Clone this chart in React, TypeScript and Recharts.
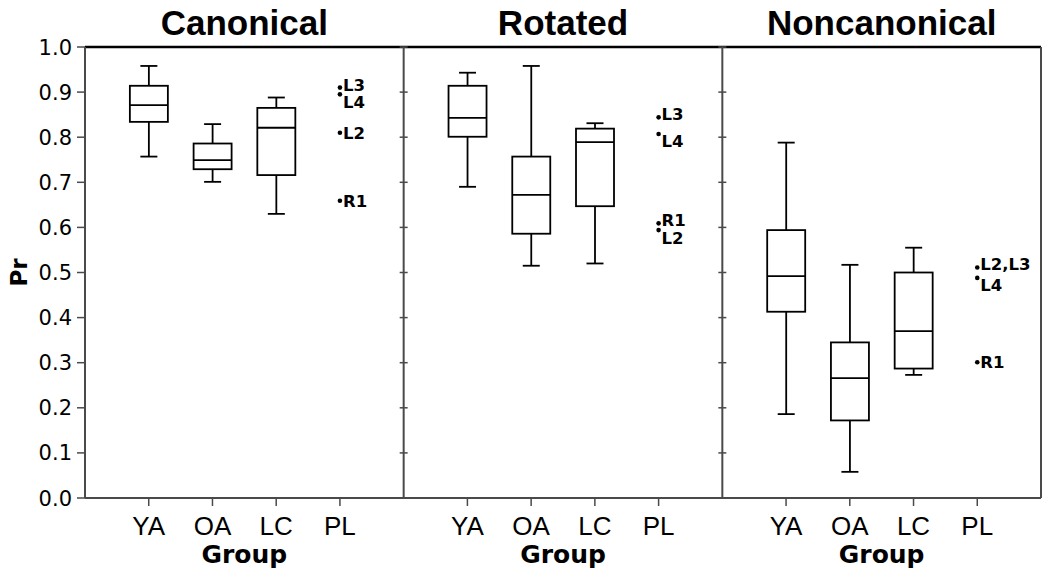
import React from 'react';
import { ComposedChart, XAxis, YAxis, Bar, Scatter, ReferenceLine, Label } from 'recharts';

// ---------- data ----------
const panelTitles = ['Canonical', 'Rotated', 'Noncanonical'];
const groupNames = ['YA', 'OA', 'LC', 'PL'];
const yTickValues = [0, 0.1, 0.2, 0.3, 0.4, 0.5, 0.6, 0.7, 0.8, 0.9, 1.0];

// [min, q1, median, q3, max] for YA, OA, LC
const canonicalBoxes = [
  [0.757, 0.834, 0.871, 0.914, 0.958],
  [0.701, 0.729, 0.749, 0.786, 0.829],
  [0.630, 0.716, 0.821, 0.865, 0.888],
];
const rotatedBoxes = [
  [0.690, 0.801, 0.843, 0.914, 0.943],
  [0.515, 0.586, 0.672, 0.757, 0.958],
  [0.520, 0.647, 0.789, 0.819, 0.831],
];
const noncanonicalBoxes = [
  [0.186, 0.413, 0.492, 0.594, 0.788],
  [0.058, 0.172, 0.266, 0.345, 0.517],
  [0.273, 0.287, 0.370, 0.500, 0.555],
];

// individual PL patients
const canonicalPL = [
  { label: 'L3', value: 0.910 },
  { label: 'L4', value: 0.895 },
  { label: 'L2', value: 0.810 },
  { label: 'R1', value: 0.659 },
];
const rotatedPL = [
  { label: 'L3', value: 0.844 },
  { label: 'L4', value: 0.807 },
  { label: 'R1', value: 0.609 },
  { label: 'L2', value: 0.594 },
];
const noncanonicalPL = [
  { label: 'L2,L3', value: 0.511 },
  { label: 'L4', value: 0.488 },
  { label: 'R1', value: 0.301 },
];

// short dark marks lying on the baseline in the original figure [from, to] (x units)
const baselineMarks = [
  [2.45, 2.93],
  [8.11, 9.45],
  [12.63, 12.93],
];

// ---------- derived ----------
const PANEL_SPAN = 5;
const panelBoxes = [canonicalBoxes, rotatedBoxes, noncanonicalBoxes];
const panelPoints = [canonicalPL, rotatedPL, noncanonicalPL];
const slotX = (p: number, g: number) => p * PANEL_SPAN + g + 1;

const boxData = panelBoxes.flatMap((boxes, p) =>
  boxes.map((b, g) => ({ x: slotX(p, g), min: b[0], q1: b[1], med: b[2], q3: b[3], max: b[4] }))
);

const pointData = panelPoints.flatMap((pts, p) =>
  pts.map((pt) => {
    const above = pts.some((o) => o !== pt && o.value > pt.value && o.value - pt.value < 0.045);
    const below = pts.some((o) => o !== pt && o.value < pt.value && pt.value - o.value < 0.045);
    return { x: slotX(p, 3), y: pt.value, label: pt.label, nudge: above ? 7.5 : below ? -3 : 0 };
  })
);

const dividerTickData = [1, 2].flatMap((p) => yTickValues.map((v) => ({ x: p * PANEL_SPAN, y: v })));

const xTicks = panelTitles.flatMap((_, p) => groupNames.map((_, g) => slotX(p, g)));

// ---------- styles ----------
const AXIS = '#4a4a4a';
const SMALL_FONT = 'DejaVu Sans, Verdana, sans-serif';
const ARIAL = 'Liberation Sans, Arial, Helvetica, sans-serif';

// ---------- shapes ----------
const BoxShape = (props: any) => {
  const { x, y, width, height } = props;
  const d = props.payload ?? props;
  if (d == null || x == null) return null;
  const top = Math.min(y, y + height);
  const h = Math.abs(height);
  const span = d.max - d.min;
  const py = (v: number) => top + ((d.max - v) / span) * h;
  const cx = x + width / 2;
  const cap = 8.5;
  return (
    <g stroke="#000" strokeWidth={1.8} fill="none">
      <line x1={cx} x2={cx} y1={py(d.max)} y2={py(d.q3)} />
      <line x1={cx} x2={cx} y1={py(d.q1)} y2={py(d.min)} />
      <line x1={cx - cap} x2={cx + cap} y1={py(d.max)} y2={py(d.max)} />
      <line x1={cx - cap} x2={cx + cap} y1={py(d.min)} y2={py(d.min)} />
      <rect x={x} y={py(d.q3)} width={width} height={py(d.q1) - py(d.q3)} fill="#fff" />
      <line x1={x} x2={x + width} y1={py(d.med)} y2={py(d.med)} />
    </g>
  );
};

const PointShape = (props: any) => {
  const { cx, cy, payload } = props;
  if (cx == null || cy == null) return null;
  const fs = 16.5;
  return (
    <g>
      <circle cx={cx} cy={cy} r={2.3} fill="#000" />
      <text
        x={cx + 3}
        y={cy + payload.nudge + fs * 0.36}
        fontFamily={SMALL_FONT}
        fontWeight="bold"
        fontSize={fs}
        fill="#000"
      >
        {payload.label}
      </text>
    </g>
  );
};

const DividerTick = (props: any) => {
  const { cx, cy } = props;
  if (cx == null || cy == null) return null;
  return <line x1={cx - 4} x2={cx + 4} y1={cy} y2={cy} stroke={AXIS} strokeWidth={1.5} />;
};

const XTick = (props: any) => {
  const { x, y, payload } = props;
  const g = (Math.round(payload.value) % PANEL_SPAN) - 1;
  return (
    <text x={x} y={y} dy="0.71em" textAnchor="middle" fontFamily={ARIAL} fontSize={26} fill="#000">
      {groupNames[g]}
    </text>
  );
};

const YTick = (props: any) => {
  const { x, y, payload } = props;
  return (
    <text x={x} y={y} dy="0.36em" textAnchor="end" fontFamily={SMALL_FONT} fontSize={21} fill="#000">
      {Number(payload.value).toFixed(1)}
    </text>
  );
};

const makePanelLabel = (title: string) => (props: any) => {
  const vb = props.viewBox || {};
  const cx = vb.x;
  const top = vb.y;
  const bottom = vb.y + vb.height;
  return (
    <g>
      <text x={cx} y={top - 12} textAnchor="middle" fontFamily={ARIAL} fontWeight="bold" fontSize={35} fill="#000">
        {title}
      </text>
      <text x={cx} y={bottom + 65} textAnchor="middle" fontFamily={SMALL_FONT} fontWeight="bold" fontSize={25} fill="#000">
        Group
      </text>
    </g>
  );
};

const PrLabel = (props: any) => {
  const vb = props.viewBox || {};
  const cx = vb.x + 19;
  const cy = vb.y + vb.height / 2;
  return (
    <text
      x={cx}
      y={cy}
      transform={`rotate(-90, ${cx}, ${cy})`}
      textAnchor="middle"
      dominantBaseline="central"
      fontFamily={SMALL_FONT}
      fontWeight="bold"
      fontSize={23}
      fill="#000"
    >
      Pr
    </text>
  );
};

export default function App() {
  return (
    <div style={{ position: 'absolute', left: 0, top: 0 }}>
      <ComposedChart
        width={1050}
        height={571}
        data={boxData}
        margin={{ top: 47, right: 9, bottom: 13, left: 0 }}
      >
        <XAxis
          type="number"
          dataKey="x"
          domain={[0, 15]}
          ticks={xTicks}
          interval={0}
          height={60}
          tickSize={8}
          tickMargin={11}
          tick={<XTick />}
          axisLine={{ stroke: AXIS, strokeWidth: 2 }}
          tickLine={{ stroke: AXIS, strokeWidth: 1.5 }}
        />
        <YAxis
          type="number"
          domain={[0, 1]}
          ticks={yTickValues}
          interval={0}
          width={85}
          tickSize={8}
          tickMargin={5}
          tick={<YTick />}
          axisLine={{ stroke: AXIS, strokeWidth: 2 }}
          tickLine={{ stroke: AXIS, strokeWidth: 1.5 }}
        >
          <Label content={PrLabel} />
        </YAxis>

        <ReferenceLine y={1} stroke="#000" strokeWidth={2.5} />
        <ReferenceLine x={5} stroke={AXIS} strokeWidth={2} />
        <ReferenceLine x={10} stroke={AXIS} strokeWidth={2} />
        <ReferenceLine x={15} stroke={AXIS} strokeWidth={2} />
        {baselineMarks.map((m, i) => (
          <ReferenceLine
            key={`bm${i}`}
            segment={[{ x: m[0], y: 0 }, { x: m[1], y: 0 }]}
            stroke="#000"
            strokeWidth={2}
          />
        ))}
        {panelTitles.map((t, p) => (
          <ReferenceLine
            key={`pt${p}`}
            x={p * PANEL_SPAN + PANEL_SPAN / 2}
            stroke="none"
            label={<Label content={makePanelLabel(t)} />}
          />
        ))}

        <Scatter data={dividerTickData} dataKey="y" shape={<DividerTick />} isAnimationActive={false} />
        <Bar
          dataKey={(d: any) => [d.min, d.max]}
          barSize={38}
          shape={<BoxShape />}
          isAnimationActive={false}
        />
        <Scatter data={pointData} dataKey="y" shape={<PointShape />} isAnimationActive={false} />
      </ComposedChart>
    </div>
  );
}
